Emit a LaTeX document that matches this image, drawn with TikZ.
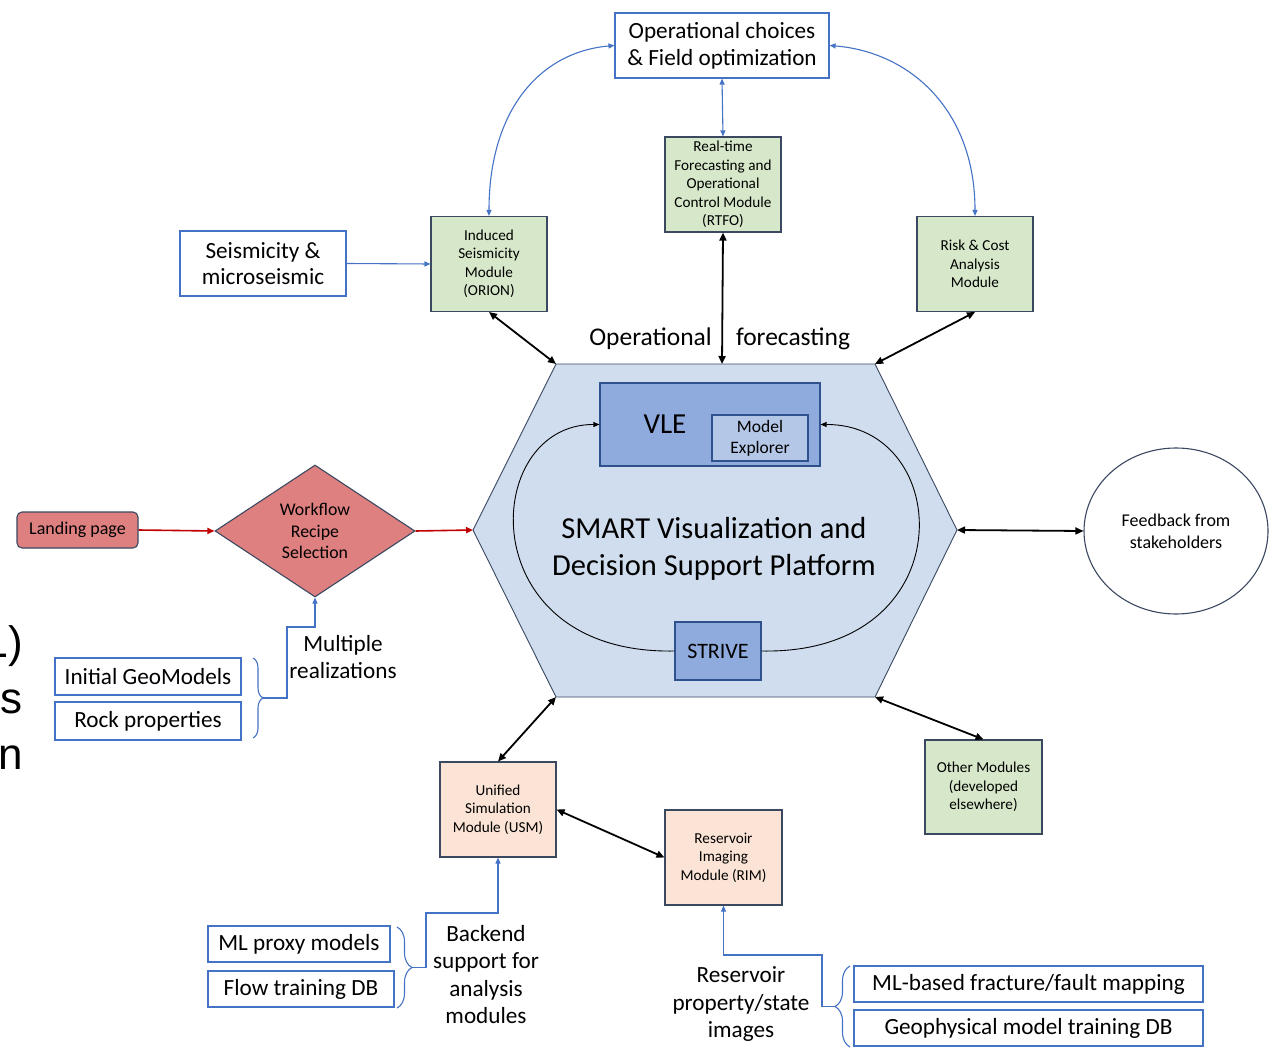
\documentclass[tikz,border=0pt]{standalone}
\usepackage{fontspec}
\setmainfont{Carlito}
\newfontfamily\slidefont{Liberation Sans}
\usetikzlibrary{arrows.meta,shapes.geometric,decorations.pathreplacing}

\definecolor{modgreen}{RGB}{214,232,201}
\definecolor{modpeach}{RGB}{251,228,213}
\definecolor{recipered}{RGB}{222,128,128}
\definecolor{hexblue}{RGB}{207,221,238}
\definecolor{vleblue}{RGB}{143,170,220}
\definecolor{explblue}{RGB}{180,199,231}
\definecolor{vleedge}{RGB}{47,82,143}
\definecolor{edgeslate}{RGB}{58,72,96}
\definecolor{linkblue}{RGB}{68,114,196}
\definecolor{linkred}{RGB}{192,0,0}

\newcommand{\setfs}[2]{\fontsize{#1}{#2}\selectfont}

\begin{document}
\begin{tikzpicture}[x=1pt, y=-1pt,
  modbox/.style={draw=edgeslate, line width=1.1pt, minimum width=116pt, minimum height=95pt, inner sep=0pt, align=center, font=\setfs{15.2}{18.5}},
  greenbox/.style={modbox, fill=modgreen},
  peachbox/.style={modbox, fill=modpeach},
  itembox/.style={draw=linkblue, line width=1.2pt, fill=white, inner sep=0pt, align=center, font=\setfs{23.2}{27}},
  freetext/.style={inner sep=0pt, align=center, font=\setfs{23.2}{27.5}},
  blacklink/.style={line width=1.8pt, {Triangle[length=8pt,width=7pt]}-{Triangle[length=8pt,width=7pt]}},
  bluelink/.style={draw=linkblue, line width=1.1pt, -{Triangle[length=6pt,width=5pt]}},
  bluetwin/.style={bluelink, {Triangle[length=6pt,width=5pt]}-{Triangle[length=6pt,width=5pt]}},
  redlink/.style={draw=linkred, line width=1.6pt, -{Triangle[length=7pt,width=6pt]}},
  looparc/.style={line width=0.9pt, -{Triangle[length=6pt,width=5pt]}},
  bracelink/.style={draw=linkblue, line width=1.1pt, decorate, decoration={brace, amplitude=#1}}
]
\useasboundingbox (0,0) rectangle (1281,1048);

% Platform hexagon
\coordinate (hexL) at (473,530);
\coordinate (hexTL) at (556,364);
\coordinate (hexT) at (722,364);
\coordinate (hexTR) at (875,364);
\coordinate (hexR) at (957,530);
\coordinate (hexBR) at (875,697);
\coordinate (hexBL) at (556,697);
\draw[draw=edgeslate, line width=0.9pt, fill=hexblue] (hexL) -- (hexTL) -- (hexTR) -- (hexR) -- (hexBR) -- (hexBL) -- cycle;

\node[draw=vleedge, line width=1.1pt, fill=vleblue, minimum width=220pt, minimum height=83pt, inner sep=0pt] (vle) at (710,424.5) {};
\node[inner sep=0pt, font=\setfs{29}{34}] (vletext) at (665,424) {VLE};
\node[draw=vleedge, line width=1.1pt, fill=explblue, minimum width=96pt, minimum height=46pt, inner sep=0pt, align=center, font=\setfs{17.5}{21}] (explorer) at (760,438) {Model\\Explorer};
\node[draw=vleedge, line width=1.1pt, fill=vleblue, minimum width=86pt, minimum height=58pt, inner sep=0pt, font=\setfs{22}{26}] (strive) at (718,651) {STRIVE};
\node[freetext, font=\setfs{30.5}{37}] (smart) at (714,548.5) {SMART Visualization and\\Decision Support Platform};

\draw[looparc] (strive.west) .. controls (470,655) and (480,424) .. (vle.west);
\draw[looparc] (strive.east) .. controls (965,655) and (955,424) .. (vle.east);

% Upper modules
\node[itembox, minimum width=214pt, minimum height=65pt] (opchoice) at (722,45.5) {Operational choices\\\& Field optimization};
\node[greenbox] (rtfo) at (723,184.5) {Real-time\\Forecasting and\\Operational\\Control Module\\(RTFO)};
\node[greenbox] (orion) at (489,264) {Induced\\Seismicity\\Module\\(ORION)};
\node[greenbox] (risk) at (975,264) {Risk \& Cost\\Analysis\\Module};
\node[itembox, minimum width=166pt, minimum height=65pt, font=\setfs{23.2}{26}] (seismic) at (263,263.5) {Seismicity \&\\microseismic};
\node[freetext, font=\setfs{25.5}{30}] (opleft) at (650.5,339) {Operational};
\node[freetext, font=\setfs{25.5}{30}] (opright) at (793,339) {forecasting};

\draw[bluetwin] (opchoice.west) .. controls (540,52) and (489,110) .. (orion.north);
\draw[bluetwin] (opchoice.east) .. controls (910,52) and (975,110) .. (risk.north);
\draw[bluetwin] (opchoice.south) -- (rtfo.north);
\draw[bluelink] (seismic.east) -- (orion.west);
\draw[blacklink] (orion.south) -- (hexTL);
\draw[blacklink] (rtfo.south) -- (hexT);
\draw[blacklink] (risk.south) -- (hexTR);

% Workflow entry
\node[draw=edgeslate, line width=1.1pt, fill=recipered, rounded corners=5pt, minimum width=121pt, minimum height=36pt, inner sep=0pt, font=\setfs{18}{21}] (landing) at (77.5,530) {Landing page};
\node[diamond, draw=edgeslate, line width=1.1pt, fill=recipered, minimum width=200pt, minimum height=132pt, inner sep=0pt, align=center, font=\setfs{17.8}{21.5}] (recipe) at (315,531) {Workflow\\Recipe\\Selection};
\node[itembox, minimum width=186pt, minimum height=37pt] (geomodels) at (148,676.5) {Initial GeoModels};
\node[itembox, minimum width=186pt, minimum height=38pt] (rockprops) at (148,721) {Rock properties};
\node[freetext] (multreal) at (343,657) {Multiple\\realizations};

\draw[redlink] (landing.east) -- (recipe.west);
\draw[redlink] (recipe.east) -- (hexL);

\coordinate (geotop) at (253,658);
\coordinate (geobot) at (253,738);
\coordinate (geotip) at (263,698);
\draw[bracelink=10pt] (geotop) -- (geobot);
\draw[bluelink] (geotip) -| (287,627) -| (recipe.south);

% Feedback and other modules
\node[ellipse, draw=edgeslate, line width=1.1pt, minimum width=184pt, minimum height=166pt, inner sep=0pt, align=center, font=\setfs{18}{22}] (feedback) at (1176,531) {Feedback from\\stakeholders};
\node[greenbox, minimum width=117pt, minimum height=94pt] (others) at (983.5,787) {Other Modules\\(developed\\elsewhere)};

\draw[blacklink] (hexR) -- (feedback.west);
\draw[blacklink] (hexBR) -- (others.north);

% Simulation and imaging
\node[peachbox] (usm) at (498,809.5) {Unified\\Simulation\\Module (USM)};
\node[peachbox, minimum width=117pt] (rim) at (723.5,857.5) {Reservoir\\Imaging\\Module (RIM)};

\draw[blacklink] (hexBL) -- (usm.north);
\draw[blacklink] (usm.east) -- (rim.west);

\node[itembox, minimum width=182pt, minimum height=36pt] (mlproxy) at (299,944) {ML proxy models};
\node[itembox, minimum width=186pt, minimum height=36pt] (flowdb) at (301,989) {Flow training DB};
\node[freetext] (backend) at (486,974.5) {Backend\\support for\\analysis\\modules};

\coordinate (usmtop) at (397,927);
\coordinate (usmbot) at (397,1008);
\coordinate (usmtip) at (412,967.5);
\draw[bracelink=15pt] (usmtop) -- (usmbot);
\draw[bluelink] (usmtip) -| (426,913) -| (usm.south);

\node[itembox, minimum width=349pt, minimum height=36pt] (fracmap) at (1028.5,984) {ML-based fracture/fault mapping};
\node[itembox, minimum width=349pt, minimum height=36pt] (geodb) at (1028.5,1028) {Geophysical model training DB};
\node[freetext] (resimages) at (741,1004.5) {Reservoir\\property/state\\images};

\coordinate (rimbot) at (850,1047);
\coordinate (rimtop) at (850,966);
\coordinate (rimtip) at (835,1006.5);
\draw[bracelink=15pt] (rimbot) -- (rimtop);
\draw[bluelink] (rimtip) -| (822,955) -| (rim.south);

% Slide text cut off at the left edge
\node[anchor=base east, inner sep=0pt, font=\slidefont\setfs{44}{52}] (cutone) at (23,657) {(ML)};
\node[anchor=base east, inner sep=0pt, font=\slidefont\setfs{44}{52}] (cuttwo) at (23,713) {s};
\node[anchor=base east, inner sep=0pt, font=\slidefont\setfs{44}{52}] (cutthree) at (23,769) {n};

\end{tikzpicture}
\end{document}
